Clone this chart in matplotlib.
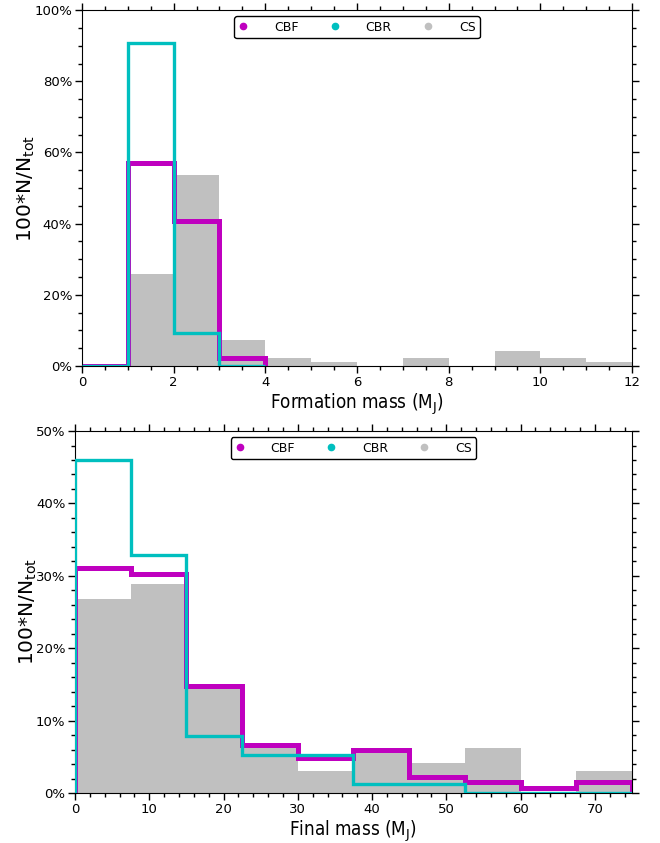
import matplotlib
matplotlib.use("Agg")
import matplotlib.pyplot as plt
from matplotlib.lines import Line2D
from matplotlib.ticker import MultipleLocator, PercentFormatter

# formation mass histograms (percent of total)
form_edges_cs = list(range(0, 13))
form_cs = [0.0, 25.8, 53.8, 7.3, 2.2, 1.1, 0.0, 2.2, 0.0, 4.2, 2.2, 1.1]
form_edges_cb = [0, 1, 2, 3, 4]
form_cbf = [0.0, 57.1, 40.8, 2.2]
form_cbr = [0.0, 90.8, 9.2, 0.0]

# final mass histograms (percent of total)
final_edges = [0, 7.5, 15, 22.5, 30, 37.5, 45, 52.5, 60, 67.5, 75]
final_cs = [26.8, 28.9, 14.5, 6.3, 3.1, 5.7, 4.2, 6.2, 0.0, 3.1]
final_cbf = [31.1, 30.3, 14.8, 6.6, 4.9, 6.0, 2.2, 1.5, 0.7, 1.5]
final_cbr = [46.0, 32.9, 7.9, 5.2, 5.2, 1.3, 1.3, 0.0, 0.0, 0.0]

labels = ['CBF', 'CBR', 'CS']
colors = ['m', 'c', 'silver']

fig = plt.figure(figsize=(6.6, 8.43), dpi=100)
ax1 = fig.add_axes([0.1242, 0.5658, 0.8334, 0.4222])
ax2 = fig.add_axes([0.1136, 0.0593, 0.8440, 0.4294])


def draw_panel(ax, cs, cs_edges, cbf, cbr, cb_edges):
    ax.stairs(cs, cs_edges, fill=True, color='silver', zorder=1)
    ax.stairs(cbf, cb_edges, baseline=0, color='m', lw=3.6, zorder=2)
    ax.stairs(cbr, cb_edges, baseline=0, color='c', lw=2.4, zorder=3)


draw_panel(ax1, form_cs, form_edges_cs, form_cbf, form_cbr, form_edges_cb)
draw_panel(ax2, final_cs, final_edges, final_cbf, final_cbr, final_edges)

ax1.set_xlim(0, 12)
ax1.set_ylim(0, 100)
ax1.xaxis.set_major_locator(MultipleLocator(2))
ax1.xaxis.set_minor_locator(MultipleLocator(0.5))
ax1.yaxis.set_major_locator(MultipleLocator(20))
ax1.yaxis.set_minor_locator(MultipleLocator(5))
ax1.set_xlabel('Formation mass (M$_{\\mathrm{J}}$)', fontsize=13.5, labelpad=2,
               fontstretch='condensed')

ax2.set_xlim(0, 75)
ax2.set_ylim(0, 50)
ax2.xaxis.set_major_locator(MultipleLocator(10))
ax2.xaxis.set_minor_locator(MultipleLocator(2))
ax2.yaxis.set_major_locator(MultipleLocator(10))
ax2.yaxis.set_minor_locator(MultipleLocator(2))
ax2.set_xlabel('Final mass (M$_{\\mathrm{J}}$)', fontsize=13.5, labelpad=2,
               fontstretch='condensed')

handles = [Line2D([], [], ls='none', marker='o', ms=4.5, color=c) for c in colors]

for ax in (ax1, ax2):
    ax.yaxis.set_major_formatter(PercentFormatter(decimals=0))
    ax.set_ylabel('100*N/N$_{\\mathrm{tot}}$', fontsize=14.5, labelpad=-2)
    ax.tick_params(which='both', direction='out', top=True, right=True,
                   labelsize=9.5, pad=2)
    ax.tick_params(which='major', length=5, width=1)
    ax.tick_params(which='minor', length=2.8, width=1)
    leg = ax.legend(handles, labels, loc='upper center', ncol=3, fontsize=9,
                    handlelength=0.76, handletextpad=2.1, columnspacing=2.5,
                    borderaxespad=0.5, borderpad=0.35, framealpha=1)
    leg.get_frame().set_edgecolor('black')

fig.savefig('out.png', dpi=100)
